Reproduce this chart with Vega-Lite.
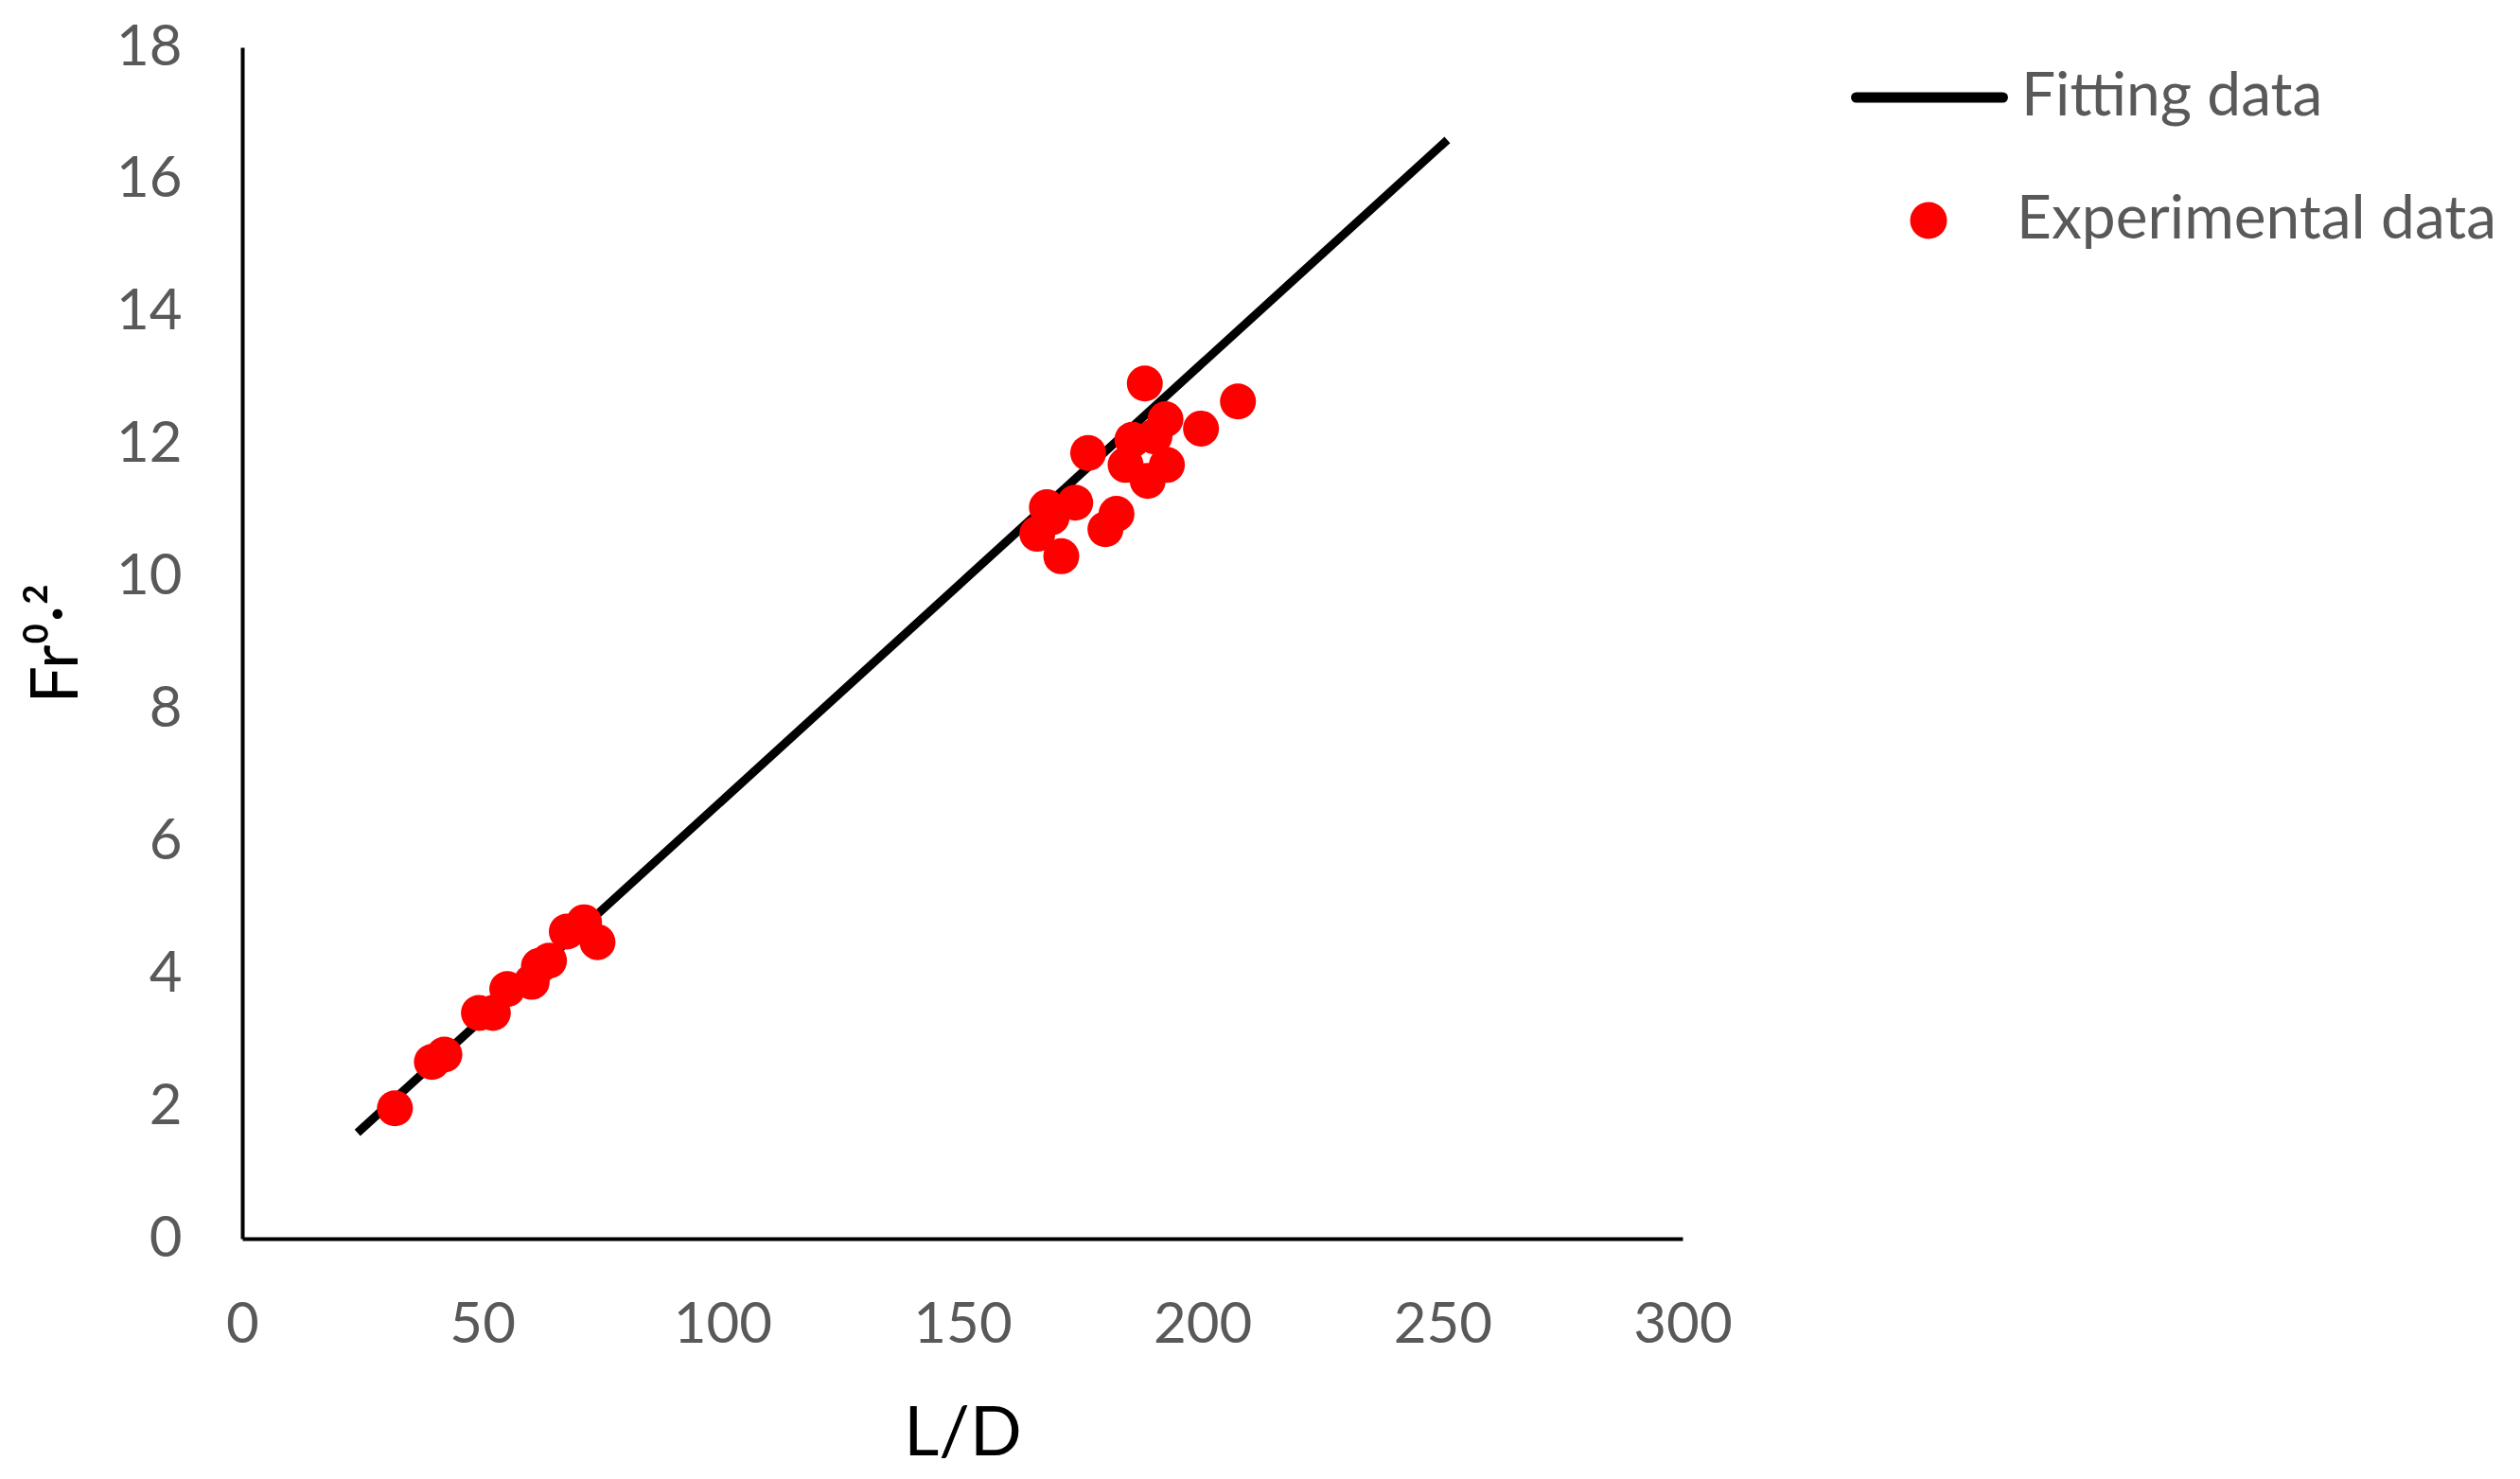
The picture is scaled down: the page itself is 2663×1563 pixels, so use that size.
{
  "$schema": "https://vega.github.io/schema/vega-lite/v6.json",
  "description": "Fr^0.2 against L/D, fitting line and experimental points",
  "autosize": {"type": "none"},
  "padding": {"left": 256, "top": 50, "right": 885, "bottom": 254},
  "width": 1522,
  "height": 1259,
  "background": "white",
  "config": {
    "view": {"stroke": null},
    "font": "Lato",
    "axis": {
      "grid": false,
      "ticks": false,
      "domainColor": "#000000",
      "domainWidth": 4,
      "labelFont": "Lato",
      "labelFontSize": 60,
      "labelColor": "#595959",
      "labelFlush": false,
      "labelOverlap": false,
      "titleFont": "Lato",
      "titleColor": "#000000",
      "titleFontWeight": "normal",
      "format": "d"
    },
    "legend": {
      "labelFont": "Lato",
      "labelFontSize": 64,
      "labelColor": "#595959",
      "labelLimit": 1000,
      "padding": 0
    }
  },
  "layer": [
    {
      "data": {
        "values": [
          {"LD": 24, "Fr": 1.6, "series": "Fitting data"},
          {"LD": 251, "Fr": 16.6, "series": "Fitting data"}
        ]
      },
      "mark": {"type": "line", "strokeWidth": 9},
      "encoding": {
        "x": {
          "field": "LD",
          "type": "quantitative",
          "scale": {"domain": [0, 300], "nice": false},
          "axis": {
            "title": "L/D",
            "format": "d",
            "values": [0, 50, 100, 150, 200, 250, 300],
            "labelPadding": 62,
            "titleFontSize": 72,
            "titlePadding": 50
          }
        },
        "y": {
          "field": "Fr",
          "type": "quantitative",
          "scale": {"domain": [0, 18], "nice": false},
          "axis": {
            "title": "Fr⁰·²",
            "format": "d",
            "values": [0, 2, 4, 6, 8, 10, 12, 14, 16, 18],
            "labelPadding": 64,
            "titleFontSize": 70,
            "titlePadding": 26
          }
        },
        "stroke": {
          "field": "series",
          "type": "nominal",
          "scale": {"range": ["#000000"]},
          "legend": {
            "title": null,
            "orient": "none",
            "legendX": 1700,
            "legendY": -30,
            "symbolSize": 24000,
            "symbolStrokeWidth": 11,
            "labelOffset": 14,
            "encode": {
              "symbols": {"update": {"strokeCap": {"value": "round"}}}
            }
          }
        }
      }
    },
    {
      "data": {
        "values": [
          {"LD": 31.8, "Fr": 1.97, "series": "Experimental data"},
          {"LD": 39.5, "Fr": 2.67, "series": "Experimental data"},
          {"LD": 42.1, "Fr": 2.78, "series": "Experimental data"},
          {"LD": 49.3, "Fr": 3.41, "series": "Experimental data"},
          {"LD": 52.2, "Fr": 3.41, "series": "Experimental data"},
          {"LD": 55.2, "Fr": 3.77, "series": "Experimental data"},
          {"LD": 60.3, "Fr": 3.88, "series": "Experimental data"},
          {"LD": 61.8, "Fr": 4.12, "series": "Experimental data"},
          {"LD": 63.9, "Fr": 4.2, "series": "Experimental data"},
          {"LD": 67.6, "Fr": 4.64, "series": "Experimental data"},
          {"LD": 71.2, "Fr": 4.78, "series": "Experimental data"},
          {"LD": 74.0, "Fr": 4.48, "series": "Experimental data"},
          {"LD": 188.0, "Fr": 12.92, "series": "Experimental data"},
          {"LD": 207.4, "Fr": 12.65, "series": "Experimental data"},
          {"LD": 199.7, "Fr": 12.24, "series": "Experimental data"},
          {"LD": 176.2, "Fr": 11.87, "series": "Experimental data"},
          {"LD": 192.3, "Fr": 12.38, "series": "Experimental data"},
          {"LD": 185.4, "Fr": 12.07, "series": "Experimental data"},
          {"LD": 190.0, "Fr": 12.12, "series": "Experimental data"},
          {"LD": 184.0, "Fr": 11.69, "series": "Experimental data"},
          {"LD": 192.6, "Fr": 11.69, "series": "Experimental data"},
          {"LD": 188.6, "Fr": 11.45, "series": "Experimental data"},
          {"LD": 173.5, "Fr": 11.12, "series": "Experimental data"},
          {"LD": 167.6, "Fr": 11.05, "series": "Experimental data"},
          {"LD": 168.6, "Fr": 10.9, "series": "Experimental data"},
          {"LD": 165.6, "Fr": 10.65, "series": "Experimental data"},
          {"LD": 170.6, "Fr": 10.31, "series": "Experimental data"},
          {"LD": 182.1, "Fr": 10.95, "series": "Experimental data"},
          {"LD": 179.8, "Fr": 10.72, "series": "Experimental data"}
        ]
      },
      "mark": {"type": "point", "filled": true, "opacity": 1, "size": 1444},
      "encoding": {
        "x": {"field": "LD", "type": "quantitative"},
        "y": {"field": "Fr", "type": "quantitative"},
        "fill": {
          "field": "series",
          "type": "nominal",
          "scale": {"range": ["#ff0000"]},
          "legend": {
            "title": null,
            "orient": "none",
            "legendX": 1750,
            "legendY": 151,
            "symbolType": "circle",
            "symbolSize": 1521,
            "symbolStrokeWidth": 0,
            "labelOffset": 61
          }
        }
      }
    }
  ]
}
